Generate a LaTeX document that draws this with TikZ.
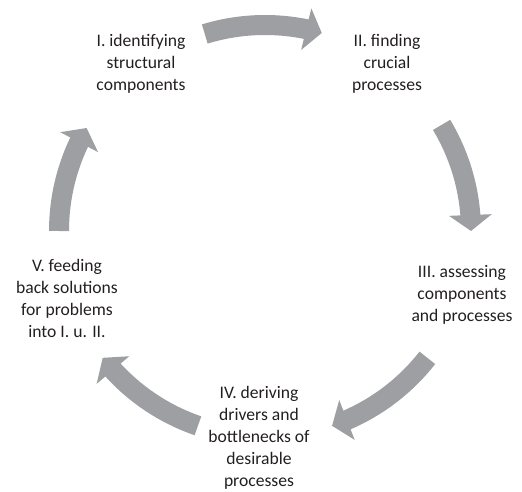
\documentclass[tikz,border=0pt]{standalone}
\usepackage{fontspec}
\setmainfont{Carlito}
\usetikzlibrary{arrows.meta,bending}
\definecolor{arrowgray}{RGB}{158,159,162}
\definecolor{textgray}{RGB}{35,31,32}
\begin{document}
\begin{tikzpicture}[x=1pt,y=1pt,
  cyclearrow/.style={draw=arrowgray, line width=20pt, -{Triangle[width=42pt,length=16pt,flex]}},
  cyctext/.style={align=center, text=textgray, font=\fontsize{17.6}{22}\selectfont, inner sep=0pt}]
\useasboundingbox (0,0) rectangle (522,491);
\coordinate (c) at (265,260);
\node[cyctext] (n1) at (141,427) {I. identifying\\structural\\components};
\node[cyctext] (n2) at (387,427) {II. finding\\crucial\\processes};
\node[cyctext] (n3) at (462,196) {III. assessing\\components\\and processes};
\node[cyctext] (n4) at (259,53) {IV. deriving\\drivers and\\bottlenecks of\\desirable\\processes};
\node[cyctext] (n5) at (67,193) {V. feeding\\back solutions\\for problems\\into I. u. II.};
\draw[cyclearrow] ([shift={(107:206)}]c) arc[start angle=107, end angle=74, radius=206];
\draw[cyclearrow] ([shift={(31:206)}]c) arc[start angle=31, end angle=0, radius=206];
\draw[cyclearrow] ([shift={(-38:206)}]c) arc[start angle=-38, end angle=-71, radius=206];
\draw[cyclearrow] ([shift={(-109:206)}]c) arc[start angle=-109, end angle=-142, radius=206];
\draw[cyclearrow] ([shift={(180:206)}]c) arc[start angle=180, end angle=150, radius=206];
\end{tikzpicture}
\end{document}
